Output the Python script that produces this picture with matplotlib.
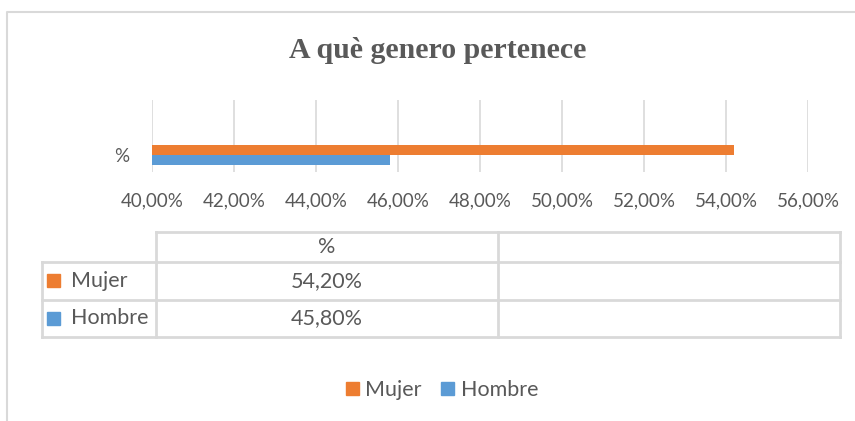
import matplotlib
matplotlib.use("Agg")
import matplotlib.pyplot as plt
from matplotlib.patches import Rectangle
from matplotlib.ticker import FuncFormatter

# ---- data ----
title = "A què genero pertenece"
category = ["%"]
series_names = ["Mujer", "Hombre"]
mujer = [54.2]
hombre = [45.8]
xticks = [40, 42, 44, 46, 48, 50, 52, 54, 56]

colors = {"Mujer": "#ED7D31", "Hombre": "#5B9BD5"}
txt = "#595959"
grid = "#D9D9D9"
W, H = 855, 421
font = "Lato"
tick_fs = 13.5
tab_fs = 15.5

fig = plt.figure(figsize=(W / 100, H / 100), dpi=100)
fig.patch.set_facecolor("white")

def fx(px):
    return px / W

def fy(py):
    return 1 - py / H

# overlay axes in pixel coords for frame, table, legend
ov = fig.add_axes([0, 0, 1, 1], zorder=0)
ov.set_xlim(0, W)
ov.set_ylim(H, 0)
ov.axis("off")
# outer chart frame (partially visible)
ov.plot([7, 7, W + 5], [H + 5, 12, 12], color=grid, lw=1.5)

# title
fig.text(fx(438), fy(51), title, ha="center", va="center", fontsize=21.5,
         fontweight="bold", family="Liberation Serif", color=txt)

# ---- bar axes ----
left, right, top, bottom = 152, 808, 100, 172
ax = fig.add_axes([fx(left), fy(bottom), fx(right - left), (bottom - top) / H], zorder=1)
ax.set_facecolor("none")
h = 0.25
ypos = list(range(len(category)))
ax.barh([y + h / 2 for y in ypos], mujer, height=h, left=0, color=colors["Mujer"], zorder=3)
ax.barh([y - h / 2 for y in ypos], hombre, height=h, left=0, color=colors["Hombre"], zorder=3)
ax.set_xlim(xticks[0], xticks[-1])
ax.set_ylim(-0.425, 1.375)
ax.set_xticks(xticks)
ax.xaxis.set_major_formatter(FuncFormatter(lambda v, p: f"{v:.2f}".replace(".", ",") + "%"))
ax.set_yticks(ypos)
ax.set_yticklabels(category)
ax.grid(axis="x", color=grid, lw=1.2, zorder=0)
for s in ax.spines.values():
    s.set_visible(False)
ax.tick_params(axis="both", length=0, colors=txt, labelsize=tick_fs)
ax.tick_params(axis="x", pad=15)
ax.tick_params(axis="y", pad=16.5)
for lab in ax.get_xticklabels() + ax.get_yticklabels():
    lab.set_family(font)

# ---- data table ----
xs = [42, 156, 498, 840]
ys = [232, 262, 300, 337]
lw = 2
tc = grid
# horizontal lines
ov.plot([xs[1], xs[3]], [ys[0], ys[0]], color=tc, lw=lw)
for y in ys[1:]:
    ov.plot([xs[0], xs[3]], [y, y], color=tc, lw=lw)
# vertical lines
ov.plot([xs[0], xs[0]], [ys[1], ys[3]], color=tc, lw=lw)
for x in xs[1:]:
    ov.plot([x, x], [ys[0], ys[3]], color=tc, lw=lw)

cx = (xs[1] + xs[2]) / 2
ov.text(cx, (ys[0] + ys[1]) / 2, category[0], ha="center", va="center",
        fontsize=tab_fs, color=txt, family=font)
vals = [mujer[0], hombre[0]]
for i, (name, v) in enumerate(zip(series_names, vals)):
    yc = (ys[i + 1] + ys[i + 2]) / 2
    ov.add_patch(Rectangle((47, yc - 7), 13, 13, color=colors[name]))
    ov.text(71, yc, name, ha="left", va="center", fontsize=tab_fs, color=txt, family=font)
    ov.text(cx, yc, (f"{v:.2f}".replace(".", ",") + "%"), ha="center", va="center",
            fontsize=tab_fs, color=txt, family=font)

# ---- legend ----
leg = fig.legend(handles=[Rectangle((0, 0), 1, 1, color=colors[n]) for n in series_names],
                 labels=series_names, loc="center", bbox_to_anchor=(fx(442), fy(390)),
                 ncol=2, frameon=False, handlelength=0.6, handleheight=0.6,
                 handletextpad=0.3, columnspacing=0.9,
                 prop={"family": font, "size": tab_fs})
for t in leg.get_texts():
    t.set_color(txt)

fig.savefig("out.png", dpi=100)
